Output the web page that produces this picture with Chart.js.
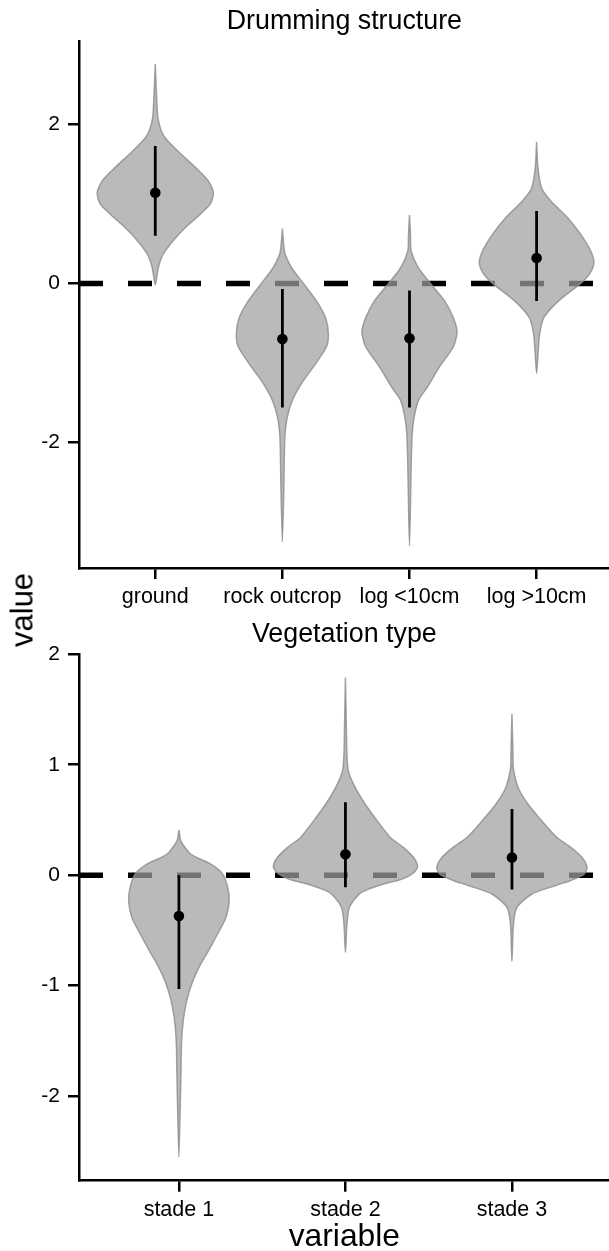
<!DOCTYPE html>
<html>
<head>
<meta charset="utf-8">
<script src="https://cdn.jsdelivr.net/npm/chart.js@4.4.1/dist/chart.umd.min.js"></script>
<style>
    html, body { margin: 0; padding: 0; background: #fff; overflow: hidden; }
    #wrap { position: relative; width: 609px; height: 1251px; overflow: hidden; }
    #top-box { position: absolute; left: 0; top: 0; width: 615px; height: 612px; }
    #bottom-box { position: absolute; left: 0; top: 612px; width: 615px; height: 639px; }
    #value-label {
        position: absolute; left: 22px; top: 610px;
        transform: translate(-50%, -50%) rotate(-90deg);
        font: 31px 'Liberation Sans', Arial, sans-serif; line-height: 1;
        color: #000; white-space: nowrap;
    }
</style>
</head>
<body>
<div id="wrap">
    <div id="top-box"><canvas id="drum-chart" width="615" height="612"></canvas></div>
    <div id="bottom-box"><canvas id="veg-chart" width="615" height="639"></canvas></div>
    <div id="value-label">value</div>
</div>
<script>
// --- DATA: Drumming structure ---
const drumCategories = ['ground', 'rock outcrop', 'log <10cm', 'log >10cm'];
const drumMeans = [1.14, -0.70, -0.69, 0.32];
const drumLower = [0.60, -1.56, -1.56, -0.22];
const drumUpper = [1.73, -0.07, -0.09, 0.91];
const drumTicks = [-2, 0, 2];
// violin outlines: value levels (top to bottom) and half-widths in category units
const drumViolinLevels = [
    [2.76, 2.29, 2.08, 1.92, 1.83, 1.66, 1.46, 1.29, 1.14, 1.00, 0.87, 0.70, 0.54, 0.37, 0.20, -0.02],
    [0.69, 0.45, 0.37, 0.20, 0.00, -0.22, -0.43, -0.63, -0.80, -1.05, -1.26, -1.47, -1.68, -1.89, -2.10, -2.51, -3.25],
    [0.86, 0.60, 0.41, 0.20, 0.00, -0.22, -0.43, -0.61, -0.80, -1.05, -1.30, -1.47, -1.68, -1.89, -2.31, -3.30],
    [1.78, 1.46, 1.20, 1.04, 0.83, 0.62, 0.41, 0.26, 0.12, 0.00, -0.22, -0.43, -0.63, -0.84, -1.13]
];
const drumViolinWidths = [
    [0, 0.012, 0.021, 0.047, 0.079, 0.181, 0.315, 0.417, 0.457, 0.433, 0.354, 0.236, 0.142, 0.063, 0.024, 0],
    [0, 0.012, 0.021, 0.071, 0.165, 0.268, 0.339, 0.362, 0.346, 0.244, 0.150, 0.079, 0.039, 0.021, 0.016, 0.012, 0],
    [0, 0.008, 0.013, 0.069, 0.165, 0.276, 0.344, 0.374, 0.344, 0.236, 0.142, 0.071, 0.037, 0.021, 0.013, 0],
    [0, 0.010, 0.039, 0.110, 0.242, 0.346, 0.425, 0.451, 0.417, 0.346, 0.173, 0.057, 0.024, 0.013, 0]
];

// --- DATA: Vegetation type ---
const vegCategories = ['stade 1', 'stade 2', 'stade 3'];
const vegMeans = [-0.37, 0.19, 0.16];
const vegLower = [-1.03, -0.11, -0.13];
const vegUpper = [0.00, 0.66, 0.60];
const vegTicks = [-2, -1, 0, 1, 2];
const vegViolinLevels = [
    [0.41, 0.31, 0.19, 0.10, 0.01, -0.11, -0.23, -0.38, -0.53, -0.68, -0.83, -0.98, -1.13, -1.29, -1.50, -1.80, -2.55],
    [1.79, 1.30, 1.09, 0.94, 0.79, 0.64, 0.49, 0.34, 0.25, 0.16, 0.08, 0.02, -0.04, -0.08, -0.13, -0.17, -0.29, -0.44, -0.70],
    [1.46, 1.10, 0.97, 0.79, 0.64, 0.49, 0.34, 0.25, 0.16, 0.07, 0.01, -0.05, -0.08, -0.11, -0.17, -0.29, -0.44, -0.78]
];
const vegViolinWidths = [
    [0, 0.012, 0.072, 0.192, 0.263, 0.293, 0.302, 0.283, 0.233, 0.179, 0.122, 0.078, 0.048, 0.028, 0.016, 0.012, 0],
    [0, 0.006, 0.009, 0.018, 0.060, 0.120, 0.192, 0.271, 0.349, 0.409, 0.433, 0.409, 0.331, 0.229, 0.132, 0.084, 0.024, 0.009, 0],
    [0, 0.006, 0.008, 0.038, 0.098, 0.180, 0.271, 0.355, 0.421, 0.451, 0.433, 0.349, 0.289, 0.229, 0.120, 0.030, 0.009, 0]
];

Chart.defaults.font.family = "'Liberation Sans', Arial, sans-serif";
Chart.defaults.color = '#000';

// right side top->bottom, then left side back up
function violinPoints(center, levels, widths) {
    const pts = [];
    for (let i = 0; i < levels.length; i++) pts.push({ x: center + widths[i], y: levels[i] });
    for (let i = levels.length - 2; i > 0; i--) pts.push({ x: center - widths[i], y: levels[i] });
    pts.push({ x: center, y: levels[0] });
    return pts;
}

function buildDatasets(categories, means, lower, upper, levels, widths, xMin) {
    const datasets = [];

    // dashed reference line at zero, drawn underneath everything
    datasets.push({
        data: [{ x: xMin, y: 0 }, { x: categories.length + 0.5, y: 0 }],
        showLine: true,
        borderColor: '#000',
        borderWidth: 5.5,
        borderDash: [24, 25],
        pointRadius: 0,
        order: 3
    });

    categories.forEach((cat, i) => {
        datasets.push({
            data: violinPoints(i + 1, levels[i], widths[i]),
            showLine: true,
            fill: 'shape',
            backgroundColor: 'rgba(160,160,160,0.72)',
            borderColor: 'rgba(140,140,140,0.8)',
            borderWidth: 1.5,
            tension: 0.25,
            pointRadius: 0,
            order: 2
        });
        datasets.push({
            data: [{ x: i + 1, y: upper[i] }, { x: i + 1, y: lower[i] }],
            showLine: true,
            borderColor: '#000',
            borderWidth: 2.8,
            pointRadius: 0,
            order: 1
        });
    });

    datasets.push({
        data: means.map((m, i) => ({ x: i + 1, y: m })),
        pointRadius: 5.3,
        pointBackgroundColor: '#000',
        pointBorderWidth: 0,
        order: 0
    });
    return datasets;
}

function makeChart(canvasId, cfg) {
    const ctx = document.getElementById(canvasId).getContext('2d');
    const axisLine = { display: true, color: '#000', width: 2.5 };
    const tickGrid = { display: true, drawOnChartArea: false, drawTicks: true, tickLength: 11, color: '#000', lineWidth: 2.5 };

    return new Chart(ctx, {
        type: 'scatter',
        data: {
            datasets: buildDatasets(cfg.categories, cfg.means, cfg.lower, cfg.upper, cfg.levels, cfg.widths, cfg.xMin)
        },
        options: {
            responsive: false,
            animation: false,
            devicePixelRatio: 1,
            layout: { padding: 0 },
            plugins: {
                legend: { display: false },
                tooltip: { enabled: false },
                title: {
                    display: true,
                    text: cfg.title,
                    fullSize: false,
                    font: { size: 26.8, weight: 'normal' },
                    color: '#000',
                    padding: cfg.titlePadding
                }
            },
            scales: {
                x: {
                    type: 'linear',
                    bounds: 'data',
                    min: cfg.xMin,
                    max: cfg.xMax,
                    afterBuildTicks: s => { s.ticks = cfg.categories.map((c, i) => ({ value: i + 1 })); },
                    afterFit: s => { s.height = cfg.xHeight; },
                    ticks: {
                        callback: (v, i) => cfg.categories[i],
                        font: { size: 21.5 },
                        color: '#000',
                        padding: 5,
                        maxRotation: 0,
                        autoSkip: false
                    },
                    grid: tickGrid,
                    border: axisLine,
                    title: cfg.xTitle ? {
                        display: true,
                        text: cfg.xTitle,
                        font: { size: 31.8, lineHeight: 0.8 },
                        color: '#000',
                        padding: { top: 0, bottom: 1 }
                    } : { display: false }
                },
                y: {
                    type: 'linear',
                    bounds: 'data',
                    min: cfg.yMin,
                    max: cfg.yMax,
                    afterBuildTicks: s => { s.ticks = cfg.yTicks.map(v => ({ value: v })); },
                    afterFit: s => { s.width = 79; },
                    ticks: {
                        font: { size: 21 },
                        color: '#000',
                        padding: 8
                    },
                    grid: tickGrid,
                    border: axisLine
                }
            }
        }
    });
}

makeChart('drum-chart', {
    title: 'Drumming structure',
    titlePadding: { top: 5.4, bottom: 3.4 },
    categories: drumCategories,
    means: drumMeans,
    lower: drumLower,
    upper: drumUpper,
    levels: drumViolinLevels,
    widths: drumViolinWidths,
    yTicks: drumTicks,
    yMin: -3.58,
    yMax: 3.05,
    xMin: 0.4,
    xMax: 4.575,
    xHeight: 44
});

makeChart('veg-chart', {
    title: 'Vegetation type',
    titlePadding: { top: 6.1, bottom: 4.0 },
    categories: vegCategories,
    means: vegMeans,
    lower: vegLower,
    upper: vegUpper,
    levels: vegViolinLevels,
    widths: vegViolinWidths,
    yTicks: vegTicks,
    yMin: -2.765,
    yMax: 2,
    xMin: 0.4,
    xMax: 3.587,
    xHeight: 70.3,
    xTitle: 'variable'
});
</script>
</body>
</html>
